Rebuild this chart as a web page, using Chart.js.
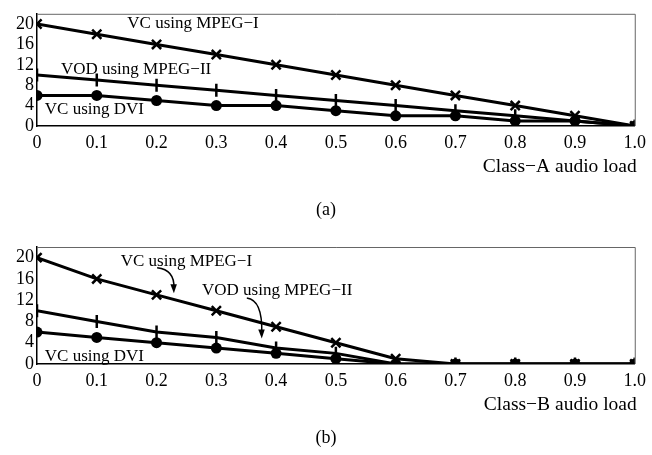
<!DOCTYPE html>
<html>
<head>
<meta charset="utf-8">
<script src="https://cdn.jsdelivr.net/npm/chart.js@4/dist/chart.umd.min.js"></script>
<style>
  html,body{margin:0;padding:0;background:#fff;}
  body{width:652px;height:455px;position:relative;overflow:hidden;}
  .panel{position:absolute;left:0;width:652px;}
</style>
</head>
<body>
<div class="panel" style="top:0;height:228px;"><canvas id="ca"></canvas></div>
<div class="panel" style="top:228px;height:227px;"><canvas id="cb"></canvas></div>
<script>
// ---- data ----
const loads = [0, 0.1, 0.2, 0.3, 0.4, 0.5, 0.6, 0.7, 0.8, 0.9, 1.0];
const xTickLabels = ['0', '0.1', '0.2', '0.3', '0.4', '0.5', '0.6', '0.7', '0.8', '0.9', '1.0'];
const yTicks = [0, 4, 8, 12, 16, 20];
const seriesNames = ['VC using MPEG−I', 'VOD using MPEG−II', 'VC using DVI'];

// Panel (a): Class-A audio load
const a_vcMpeg1 = [20, 18, 16, 14, 12, 10, 8, 6, 4, 2, 0];
const a_vodMpeg2 = [10, 9, 8, 7, 6, 5, 4, 3, 2, 1, 0];
const a_vcDvi = [6, 6, 5, 4, 4, 3, 2, 2, 1, 1, 0];

// Panel (b): Class-B audio load
const b_vcMpeg1 = [20, 16, 13, 10, 7, 4, 1, 0, 0, 0, 0];
const b_vodMpeg2 = [10, 8, 6, 5, 3, 2, 0, 0, 0, 0, 0];
const b_vcDvi = [6, 5, 4, 3, 2, 1, 0, 0, 0, 0, 0];

// annotation labels (data coordinates: load, value)
const a_labels = [
  {text: 'VC using MPEG−I', x: 0.151, y: 20.0},
  {text: 'VOD using MPEG−II', x: 0.040, y: 11.1},
  {text: 'VC using DVI', x: 0.013, y: 3.3}
];
const b_labels = [
  {text: 'VC using MPEG−I', x: 0.140, y: 19.2},
  {text: 'VOD using MPEG−II', x: 0.276, y: 13.9},
  {text: 'VC using DVI', x: 0.013, y: 1.4}
];
// curved arrows (data coordinates): start -> tip
const b_arrows = [
  {x0: 0.201, y0: 18.1, x1: 0.229, y1: 13.3},
  {x0: 0.351, y0: 12.4, x1: 0.376, y1: 4.8}
];

const FONT = "'Liberation Serif', 'Times New Roman', serif";

function mkDatasets(v1, v2, v3) {
  const pts = (arr) => loads.map((x, i) => ({x: x, y: arr[i]}));
  return [
    {label: seriesNames[0], data: pts(v1), borderColor: '#000', backgroundColor: '#000',
     borderWidth: 3, pointStyle: 'crossRot', pointRadius: 6.5, pointBorderWidth: 2.5,
     pointBorderColor: '#000', tension: 0},
    {label: seriesNames[1], data: pts(v2), borderColor: '#000', backgroundColor: '#000',
     borderWidth: 3, pointStyle: 'line', pointRotation: 90, pointRadius: 6.5, pointBorderWidth: 2.5,
     pointBorderColor: '#000', tension: 0},
    {label: seriesNames[2], data: pts(v3), borderColor: '#000', backgroundColor: '#000',
     borderWidth: 3, pointStyle: 'circle', pointRadius: 5.5, pointBorderWidth: 0,
     pointBackgroundColor: '#000', tension: 0}
  ];
}

function mkChart(id, datasets, opts) {
  const overlay = {
    id: 'overlay',
    afterDraw(chart) {
      const ctx = chart.ctx, xs = chart.scales.x, ys = chart.scales.y, ca = chart.chartArea;
      ctx.save();
      // frame top and right
      ctx.strokeStyle = '#666';
      ctx.lineWidth = 1;
      ctx.beginPath();
      ctx.moveTo(ca.left, ca.top + 0.5);
      ctx.lineTo(ca.right + 0.5, ca.top + 0.5);
      ctx.lineTo(ca.right + 0.5, ca.bottom);
      ctx.stroke();
      // annotation labels
      ctx.fillStyle = '#000';
      ctx.font = '17px ' + FONT;
      ctx.textAlign = 'left';
      ctx.textBaseline = 'middle';
      opts.labels.forEach(l => ctx.fillText(l.text, xs.getPixelForValue(l.x), ys.getPixelForValue(l.y)));
      // arrows
      (opts.arrows || []).forEach(a => {
        const x0 = xs.getPixelForValue(a.x0), y0 = ys.getPixelForValue(a.y0);
        const x1 = xs.getPixelForValue(a.x1), y1 = ys.getPixelForValue(a.y1);
        ctx.strokeStyle = '#000';
        ctx.lineWidth = 1.5;
        ctx.beginPath();
        ctx.moveTo(x0, y0);
        ctx.quadraticCurveTo(x1 + 1, y0 + 2, x1, y1 - 5);
        ctx.stroke();
        ctx.beginPath();
        ctx.moveTo(x1, y1);
        ctx.lineTo(x1 - 3.5, y1 - 9);
        ctx.lineTo(x1 + 3, y1 - 9);
        ctx.closePath();
        ctx.fill();
      });
      // axis title
      ctx.font = '19.5px ' + FONT;
      ctx.textAlign = 'right';
      ctx.textBaseline = 'alphabetic';
      ctx.fillText(opts.xTitle, ca.right + 2, ca.bottom + opts.titleDy);
      // panel label
      ctx.font = '18px ' + FONT;
      ctx.textAlign = 'center';
      ctx.fillText(opts.panel, 326, ca.bottom + opts.panelDy);
      ctx.restore();
    }
  };
  return new Chart(document.getElementById(id), {
    type: 'line',
    data: {datasets: datasets},
    options: {
      responsive: true,
      maintainAspectRatio: false,
      animation: false,
      layout: {padding: {top: opts.padTop, right: 13, left: 0, bottom: 0}},
      plugins: {legend: {display: false}, tooltip: {enabled: false}, title: {display: false}},
      scales: {
        x: {
          type: 'linear', min: 0, max: 1,
          grid: {display: false, drawTicks: false},
          border: {display: true, color: '#000', width: 1.5},
          afterBuildTicks: (s) => { s.ticks = loads.map(v => ({value: v})); },
          afterFit: (s) => { s.height = opts.xHeight; },
          ticks: {
            color: '#000', padding: 6, maxRotation: 0, autoSkip: false,
            font: {family: FONT, size: 18},
            callback: (v, i) => xTickLabels[i]
          }
        },
        y: {
          type: 'linear', min: 0, max: 22,
          grid: {display: false, drawTicks: false},
          border: {display: true, color: '#000', width: 1.5},
          afterBuildTicks: (s) => { s.ticks = yTicks.map(v => ({value: v})); },
          afterFit: (s) => { s.width = 37; },
          ticks: {
            color: '#000', padding: 3, autoSkip: false,
            font: {family: FONT, size: 18},
            callback: (v) => String(v)
          }
        }
      }
    },
    plugins: [overlay]
  });
}

mkChart('ca', mkDatasets(a_vcMpeg1, a_vodMpeg2, a_vcDvi), {
  padTop: 7, xHeight: 102, labels: a_labels, arrows: [],
  xTitle: 'Class−A audio load', titleDy: 46, panel: '(a)', panelDy: 89
});
mkChart('cb', mkDatasets(b_vcMpeg1, b_vodMpeg2, b_vcDvi), {
  padTop: 19, xHeight: 91, labels: b_labels, arrows: b_arrows,
  xTitle: 'Class−B audio load', titleDy: 46, panelDy: 79, panel: '(b)'
});
</script>
</body>
</html>
